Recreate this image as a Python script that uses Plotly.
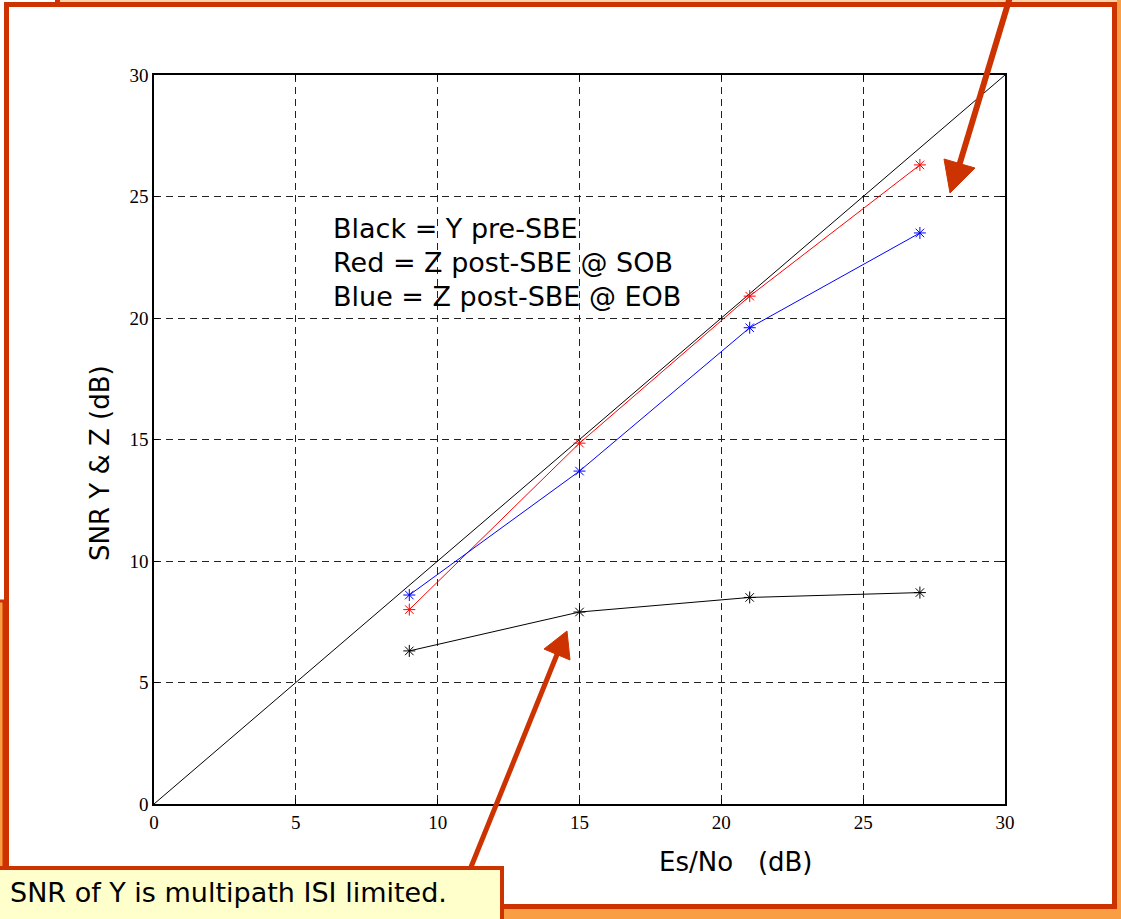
import plotly.graph_objects as go

# Es/No operating points (dB)
es_no = [9, 15, 21, 27]

# SNR of Y before the sequence-based estimator, and Z after it
snr_y_pre_sbe = [6.3, 7.9, 8.5, 8.7]
snr_z_sob = [8.0, 14.85, 20.9, 26.3]
snr_z_eob = [8.6, 13.7, 19.6, 23.5]

# y = x reference line
ref_x = [0, 30]
ref_y = [0, 30]

x_ticks = [0, 5, 10, 15, 20, 25, 30]
y_ticks = [0, 5, 10, 15, 20, 25, 30]

W, H = 1121, 919
L, R, T, B = 154, 1005, 75, 804

DARK = "#CC3300"
ORANGE = "#FA9E44"
PEACH = "#FBD3A6"
NOTE_BG = "#FFFFCC"
SANS = "DejaVu Sans, Verdana, sans-serif"


def px(x, y):
    """Pixel position on the page -> paper coordinates."""
    return (x - L) / (R - L), (B - y) / (B - T)


def rect(x0, y0, x1, y1, fill, line_color=None, line_width=0, layer="below"):
    a = px(x0, y0)
    b = px(x1, y1)
    return dict(type="rect", xref="paper", yref="paper",
                x0=a[0], y0=a[1], x1=b[0], y1=b[1],
                fillcolor=fill, layer=layer,
                line=dict(color=line_color or fill, width=line_width))


def seg(x0, y0, x1, y1, color, width, layer="above"):
    a = px(x0, y0)
    b = px(x1, y1)
    return dict(type="line", xref="paper", yref="paper",
                x0=a[0], y0=a[1], x1=b[0], y1=b[1], layer=layer,
                line=dict(color=color, width=width))


def tri(p1, p2, p3, color):
    pts = [px(*p) for p in (p1, p2, p3)]
    path = "M {} {} L {} {} L {} {} Z".format(
        pts[0][0], pts[0][1], pts[1][0], pts[1][1], pts[2][0], pts[2][1])
    return dict(type="path", xref="paper", yref="paper", path=path,
                fillcolor=color, line=dict(color=color, width=1), layer="above")


def label(text, x, y, size, anchor="left", angle=0):
    ax, ay = px(x, y)
    return dict(text=text, x=ax, y=ay, xref="paper", yref="paper",
                xanchor=anchor, yanchor="middle", showarrow=False,
                textangle=angle, font=dict(family=SANS, size=size, color="black"))


fig = go.Figure()

fig.add_trace(go.Scatter(x=ref_x, y=ref_y, mode="lines",
                         line=dict(color="black", width=1), showlegend=False))

series = [
    (snr_y_pre_sbe, "black"),
    (snr_z_sob, "#FF0000"),
    (snr_z_eob, "#0000FF"),
]
for vals, col in series:
    fig.add_trace(go.Scatter(
        x=es_no, y=vals, mode="lines+markers",
        line=dict(color=col, width=1),
        marker=dict(symbol="asterisk-open", size=10,
                    line=dict(color=col, width=1)),
        showlegend=False))

tick_font = dict(family="Liberation Serif, Times New Roman, serif", size=19, color="black")

axis_common = dict(
    showline=True, linecolor="black", linewidth=1.5, mirror="ticks",
    ticks="inside", ticklen=5, tickcolor="black",
    showgrid=True, gridcolor="#222222", gridwidth=1, griddash="7px,5px",
    zeroline=False, tickfont=tick_font,
)

fig.update_xaxes(range=[0, 30], tickvals=x_ticks, ticktext=[str(v) for v in x_ticks],
                 **axis_common)
fig.update_yaxes(range=[0, 30], tickvals=y_ticks, ticktext=[str(v) for v in y_ticks],
                 **axis_common)

shapes = [
    # surrounding slide pieces
    rect(60, -5, W + 5, 2, PEACH),
    seg(57.5, -5, 57.5, 2, DARK, 5, layer="below"),
    rect(W - 4, -5, W + 5, H + 5, ORANGE),
    rect(-5, 909, W + 5, H + 5, ORANGE),
    rect(-5, 601, 4, H + 5, ORANGE, DARK, 3),
    # white framed panel
    rect(6.5, 4.5, 1114.5, 906.5, "white", DARK, 5),
    # note box
    rect(-5, 868, 502, H + 8, NOTE_BG, DARK, 4, layer="above"),
    # arrow to the post-SBE curves
    seg(1010, -3, 959, 166, DARK, 6),
    tri((950, 193), (944, 159), (975, 168), DARK),
    # arrow from the note box
    seg(471, 867, 558, 652, DARK, 5),
    tri((567, 631), (544, 649), (570, 660), DARK),
]

annotations = [
    label("Black = Y pre-SBE", 331, 228, 27),
    label("Red = Z post-SBE @ SOB", 331, 262, 27),
    label("Blue = Z post-SBE @ EOB", 331, 296, 27),
    label("SNR of Y is multipath ISI limited.", 8, 892, 27),
    label("Es/No\u00a0\u00a0\u00a0(dB)", 736, 862, 26, anchor="center"),
    label("SNR Y &amp; Z (dB)", 100, 463, 26, anchor="center", angle=-90),
]

fig.update_layout(
    width=W, height=H,
    margin=dict(l=L, r=W - R, t=T, b=H - B),
    paper_bgcolor="white", plot_bgcolor="rgba(0,0,0,0)",
    shapes=shapes, annotations=annotations,
    showlegend=False,
)

fig.write_html("out.html")
